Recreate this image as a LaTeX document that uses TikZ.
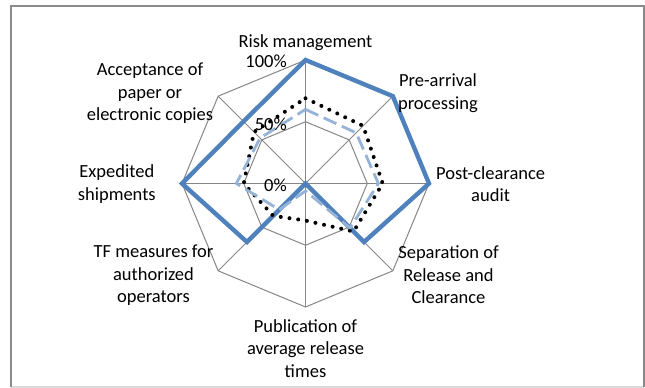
\documentclass[tikz,border=0pt]{standalone}
\usepackage{fontspec}
\setmainfont{Carlito}
\definecolor{serblue}{HTML}{4F81BD}
\definecolor{serlight}{HTML}{95B3D7}
\definecolor{gridgray}{HTML}{868686}
\definecolor{framegray}{HTML}{8A8A8A}
\definecolor{framelight}{HTML}{D9D9D9}
\begin{document}
\begin{tikzpicture}[x=1pt,y=1pt,
  gridline/.style={draw=gridgray,line width=1pt,line join=miter},
  solidser/.style={draw=serblue,line width=4.4pt,line join=miter,miter limit=4},
  dashser/.style={draw=serlight,line width=2.8pt,dash pattern=on 14pt off 6pt,line join=round},
  dotser/.style={draw=black,line width=4pt,line cap=round,dash pattern=on 0pt off 8.8pt},
  lbl/.style={font=\fontsize{18.5}{22.5}\selectfont,align=center,inner sep=0pt},
  axlbl/.style={font=\fontsize{18.5}{22.5}\selectfont,inner sep=0pt,anchor=east}]
\useasboundingbox (0,0) rectangle (645,388);
\draw[draw=framelight,line width=1.5pt] (11,1) -- (644,1);
\draw[draw=framegray,line width=1.8pt] (11,1) -- (11,382) -- (644,382) -- (644,1);
\def\R{123.5}
\begin{scope}[shift={(305.5,204.5)}]
  \coordinate (C) at (0,0);
  \foreach \k in {0,...,7}{\draw[gridline] (C) -- (90-45*\k:\R);}
  \draw[gridline] (90:\R) -- (45:\R) -- (0:\R) -- (-45:\R) -- (-90:\R) -- (-135:\R) -- (180:\R) -- (135:\R) -- cycle;
  \draw[gridline] (90:{0.5*\R}) -- (45:{0.5*\R}) -- (0:{0.5*\R}) -- (-45:{0.5*\R}) -- (-90:{0.5*\R}) -- (-135:{0.5*\R}) -- (180:{0.5*\R}) -- (135:{0.5*\R}) -- cycle;
  % solid series
  \draw[solidser] (90:\R) -- (45:\R) -- (0:\R) -- (-45:{0.67*\R}) -- (C) -- (-135:{0.67*\R}) -- (180:\R) -- (135:{0.71*\R}) -- cycle;
  % dotted series
  \draw[dotser] (90:{0.69*\R}) -- (45:{0.66*\R}) -- (0:{0.625*\R}) -- (-45:{0.55*\R}) -- (-90:{0.30*\R}) -- (-135:{0.37*\R}) -- (180:{0.5*\R}) -- (135:{0.59*\R}) -- cycle;
  % dashed series
  \draw[dashser] (90:{0.6*\R}) -- (45:{0.58*\R}) -- (0:{0.59*\R}) -- (-45:{0.51*\R}) -- (-90:{0.06*\R}) -- (-135:{0.30*\R}) -- (180:{0.56*\R}) -- (135:{0.52*\R}) -- cycle;
\end{scope}
\node[axlbl] (p100) at (287,326.3) {100\%};
\node[axlbl] (p50) at (287,264) {50\%};
\node[axlbl] (p0) at (287,203) {0\%};
\node[lbl] (risk) at (305.5,345) {Risk management};
\node[lbl] (pre) at (438,294.7) {Pre-arrival\\processing};
\node[lbl] (post) at (490.6,203.8) {Post-clearance\\audit};
\node[lbl] (sep) at (448.5,113) {Separation of\\Release and\\Clearance};
\node[lbl] (pub) at (305.5,39.7) {Publication of\\average release\\times};
\node[lbl] (tf) at (153.5,112.5) {TF measures for\\authorized\\operators};
\node[lbl] (exp) at (116.8,203.8) {Expedited\\shipments};
\node[lbl] (acc) at (150,294.5) {Acceptance of\\paper or\\electronic copies};
\end{tikzpicture}
\end{document}
